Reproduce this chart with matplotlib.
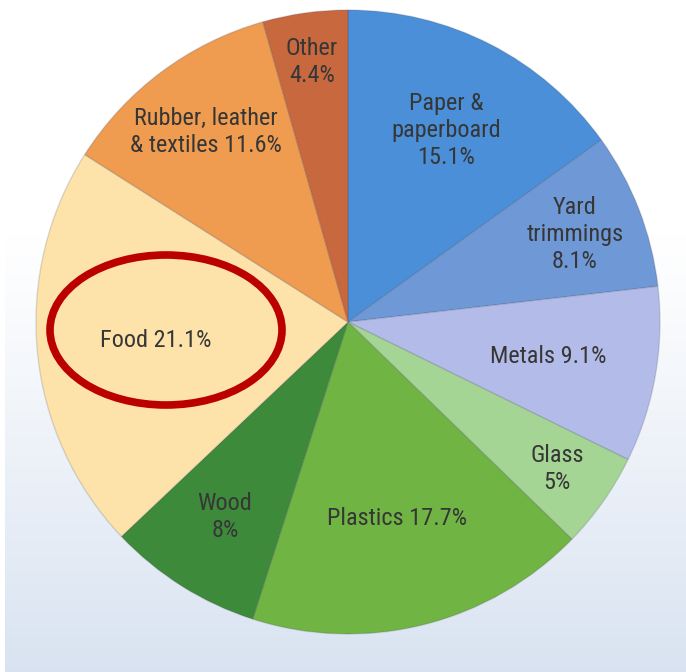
import numpy as np
import matplotlib.pyplot as plt
from matplotlib.patches import Ellipse

# --- Data ---
categories = ["Paper &\npaperboard\n15.1%", "Yard\ntrimmings\n8.1%", "Metals 9.1%", "Glass\n5%",
              "Plastics 17.7%", "Wood\n8%", "Food 21.1%", "Rubber, leather\n& textiles 11.6%",
              "Other\n4.4%"]
shares = [15.1, 8.1, 9.1, 5.0, 17.7, 8.0, 21.1, 11.6, 4.4]
colors = ["#4a8fd8", "#6f98d6", "#b3bce8", "#a5d594", "#70b443",
          "#3e8a3b", "#fde3aa", "#ef9b50", "#c7683e"]
# radial position of each label, as a fraction of the radius
label_r = [0.69, 0.78, 0.65, 0.82, 0.65, 0.74, 0.62, 0.76, 0.84]

W, H = 686, 672
CX, CY, R = 348, H - 322, 312

fig = plt.figure(figsize=(W / 100, H / 100), dpi=100)
ax = fig.add_axes([0, 0, 1, 1])

# background: white fading to pale blue at the bottom
t = np.linspace(0, 1, 256)
grad = np.clip((t - 0.35) / 0.65, 0, 1) ** 1.1
c_top = np.array([1.0, 1.0, 1.0])
c_bot = np.array([0.85, 0.89, 0.945])
img = c_top[None, :] * (1 - grad[:, None]) + c_bot[None, :] * grad[:, None]
ax.imshow(img[:, None, :], extent=(5, W, 0, H), origin="upper", aspect="auto", zorder=0)

wedges, _ = ax.pie(shares, colors=colors, startangle=90, counterclock=False,
                   center=(CX, CY), radius=R, frame=True,
                   wedgeprops=dict(edgecolor=(0.25, 0.25, 0.35, 0.18), linewidth=1.0))
ax.set_xlim(0, W)
ax.set_ylim(0, H)
ax.set_aspect("equal")
ax.axis("off")

font = ["Roboto Condensed", "Liberation Sans Narrow", "Roboto", "DejaVu Sans"]
for w, lab, rf in zip(wedges, categories, label_r):
    mid = np.deg2rad((w.theta1 + w.theta2) / 2)
    x = CX + rf * R * np.cos(mid)
    y = CY + rf * R * np.sin(mid)
    ax.text(x, y, lab, ha="center", va="center", fontsize=17.5, color="#363636",
            family=font, linespacing=1.22, zorder=5)

# highlight around the Food label
ax.add_patch(Ellipse((166, H - 330), 232, 150, fill=False, edgecolor="#bb0000",
                     linewidth=5.5, zorder=6))

fig.savefig("out.png", dpi=100)
